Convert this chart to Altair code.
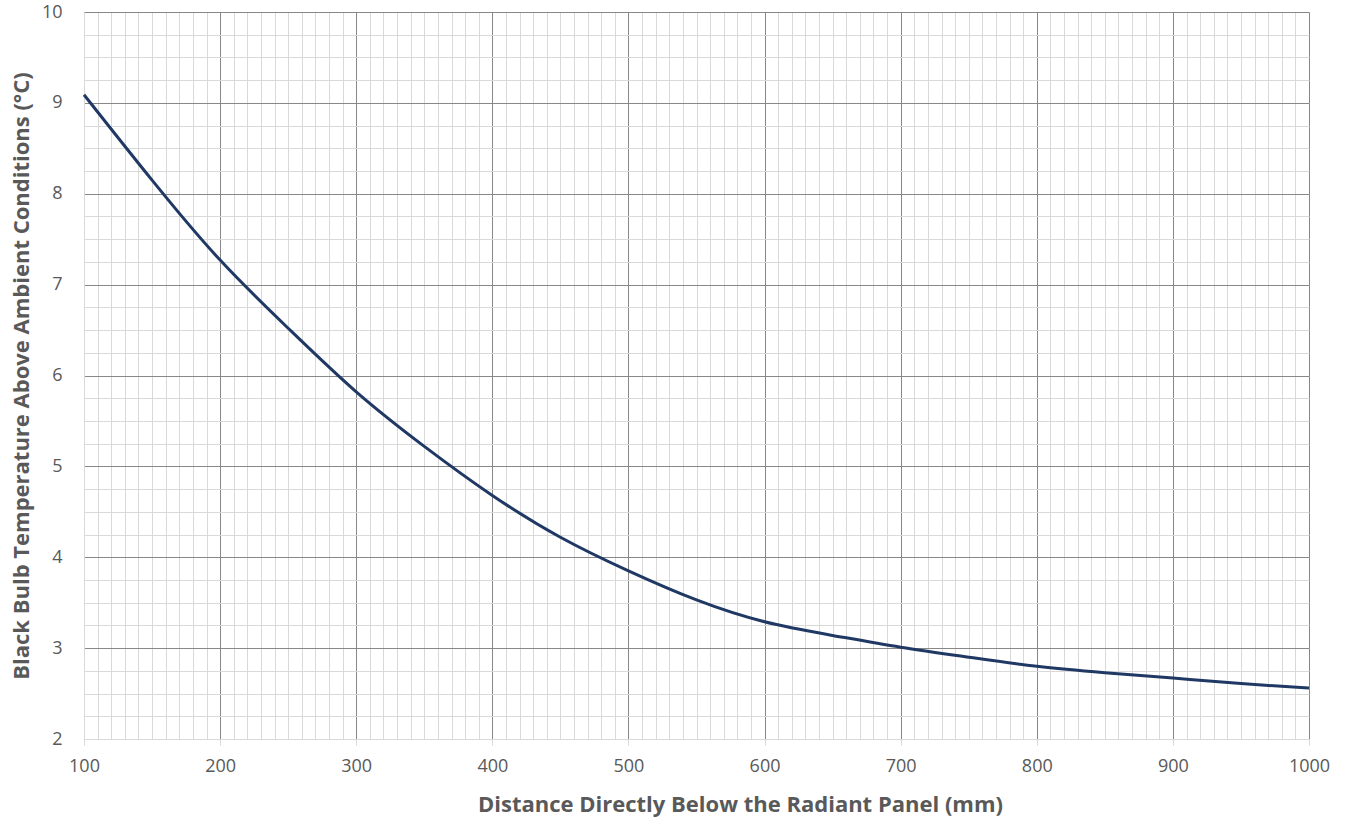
import altair as alt
import pandas as pd

# Distance below the radiant panel (mm) and black bulb temperature rise (°C)
distance_mm = [100, 150, 200, 250, 300, 350, 400, 450, 500, 550,
               600, 650, 700, 750, 800, 850, 900, 950, 1000]
temp_rise_c = [9.09, 8.15, 7.27, 6.52, 5.82, 5.22, 4.68, 4.22, 3.85, 3.53,
               3.29, 3.14, 3.01, 2.90, 2.80, 2.73, 2.67, 2.61, 2.56]

x_major = list(range(100, 1001, 100))
x_minor = list(range(100, 1001, 10))
y_major = list(range(2, 11))
y_minor = [2 + 0.25 * i for i in range(33)]

df = pd.DataFrame({"distance": distance_mm, "temp": temp_rise_c})

FONT = "Open Sans"
LABEL = "#595959"
x_scale = alt.Scale(domain=[100, 1000], nice=False, zero=False)
y_scale = alt.Scale(domain=[2, 10], nice=False, zero=False)

# Minor grid layer (invisible line, light grid only)
minor = alt.Chart(df).mark_line(strokeOpacity=0).encode(
    x=alt.X("distance:Q", scale=x_scale,
            axis=alt.Axis(values=x_minor, grid=True, gridColor="#d9d9d9",
                          gridWidth=1, labels=False, ticks=False, domain=False,
                          title=None, orient="bottom")),
    y=alt.Y("temp:Q", scale=y_scale,
            axis=alt.Axis(values=y_minor, grid=True, gridColor="#d9d9d9",
                          gridWidth=1, labels=False, ticks=False, domain=False,
                          title=None, orient="left")),
)

# Major grid, labels and the curve
curve = alt.Chart(df).mark_line(color="#203864", strokeWidth=3,
                                interpolate="natural").encode(
    x=alt.X("distance:Q", scale=x_scale,
            axis=alt.Axis(values=x_major, grid=True, gridColor="#878787",
                          gridWidth=1, domain=True, domainColor="#d9d9d9",
                          ticks=True, tickColor="#d9d9d9", tickSize=6,
                          labelPadding=12, labelFont=FONT, labelFontSize=18,
                          labelColor=LABEL, labelFlush=False, format="d",
                          title="Distance Directly Below the Radiant Panel (mm)",
                          titleFont=FONT, titleFontSize=22, titleFontWeight="bold",
                          titleColor=LABEL, titlePadding=19, titleX=656,
                          titleAlign="center", orient="bottom")),
    y=alt.Y("temp:Q", scale=y_scale,
            axis=alt.Axis(values=y_major, grid=True, gridColor="#878787",
                          gridWidth=1, domain=True, domainColor="#d9d9d9",
                          ticks=False, labelPadding=22, labelFont=FONT,
                          labelFontSize=18, labelColor=LABEL, labelFlush=False,
                          format="d",
                          title="Black Bulb Temperature Above Ambient Conditions (°C)",
                          titleFont=FONT, titleFontSize=22, titleFontWeight="bold",
                          titleColor=LABEL, titlePadding=8, orient="left")),
)

chart = alt.layer(minor, curve).resolve_axis(
    x="independent", y="independent"
).properties(
    width=1225, height=727,
    padding={"left": 84, "top": 12, "right": 40, "bottom": 88},
    autosize=alt.AutoSizeParams(type="none"),
).configure_view(stroke=None).configure(background="white")

chart.save("out.html", embed_options={"renderer": "svg", "actions": False})
